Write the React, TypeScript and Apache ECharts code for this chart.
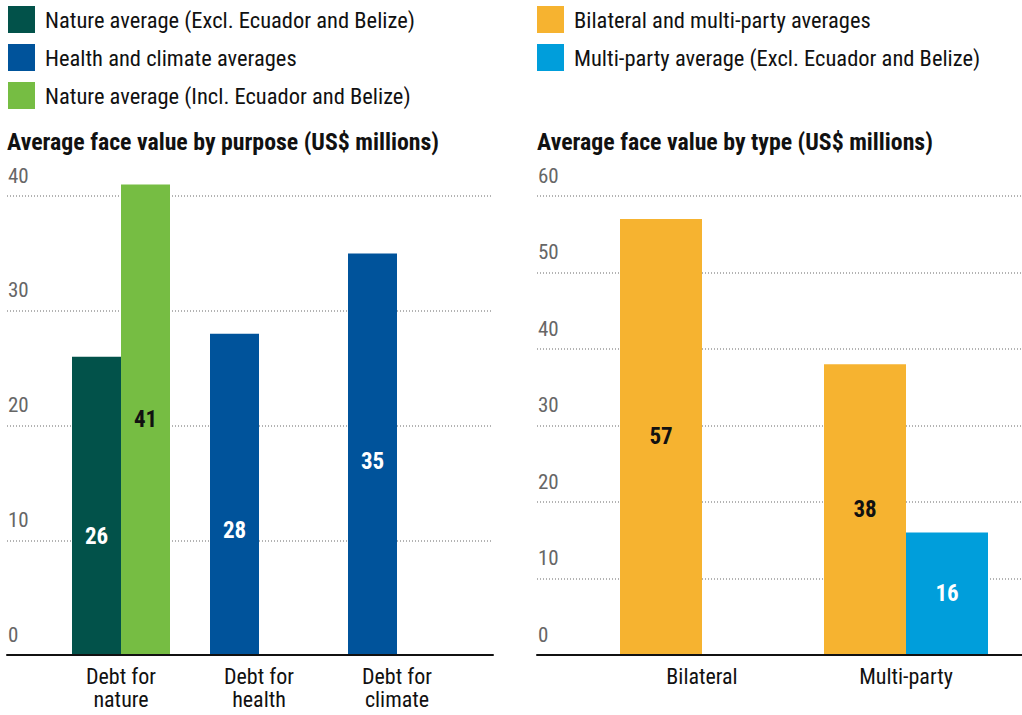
import React, { useEffect, useRef } from "react";
import * as echarts from "echarts";

const leftCategories = ["Debt for\nnature", "Debt for\nhealth", "Debt for\nclimate"];
const natureExcl = [26, null, null];
const healthClimate = [null, 28, 35];
const natureIncl = [41, null, null];

const rightCategories = ["Bilateral", "Multi-party"];
const bilateralMulti = [57, 38];
const multiExcl = [null, 16];

const leftMax = 40;
const rightMax = 60;
const tickStep = 10;

const NAMES = {
  natureExcl: "Nature average (Excl. Ecuador and Belize)",
  healthClimate: "Health and climate averages",
  natureIncl: "Nature average (Incl. Ecuador and Belize)",
  bilateralMulti: "Bilateral and multi-party averages",
  multiExcl: "Multi-party average (Excl. Ecuador and Belize)",
};

const COLORS = {
  darkGreen: "#02524A",
  blue: "#00539B",
  green: "#76BD43",
  orange: "#F6B330",
  lightBlue: "#009EDB",
};

const FONT = "'Liberation Sans Narrow', 'Roboto Condensed', 'DejaVu Sans Condensed', Roboto, sans-serif";

export default function App() {
  const ref = useRef<HTMLDivElement>(null);

  useEffect(() => {
    if (!ref.current) return;
    const chart = echarts.init(ref.current, null, { renderer: "svg" });

    const gridTop = 196;
    const gridHeight = 459;

    const frameX = (gridIndex: number) => ({
      type: "category",
      gridIndex,
      data: [""],
      z: 5,
      axisLine: { show: true, lineStyle: { color: "#111", width: 2 } },
      axisTick: { show: false },
      axisLabel: { show: false },
      splitLine: { show: false },
    });
    const frameY = (gridIndex: number, max: number) => ({
      type: "value",
      gridIndex,
      min: 0,
      max,
      interval: tickStep,
      axisLine: { show: false },
      axisTick: { show: false },
      axisLabel: {
        inside: true,
        margin: 1,
        color: "#666",
        fontFamily: FONT,
        fontSize: 21,
        verticalAlign: "bottom",
        lineHeight: 21,
        padding: [0, 0, 10, 0],
      },
      splitLine: { show: true, lineStyle: { color: "#9a9a9a", type: [1, 2], width: 1.5 } },
    });
    const barX = (gridIndex: number, data: string[]) => ({
      type: "category",
      gridIndex,
      data,
      axisLine: { show: false },
      axisTick: { show: false },
      axisLabel: {
        color: "#111",
        fontFamily: FONT,
        fontSize: 22,
        lineHeight: 23,
        margin: 10,
        interval: 0,
      },
    });
    const barY = (gridIndex: number, max: number) => ({
      type: "value",
      gridIndex,
      min: 0,
      max,
      show: false,
    });

    const labelStyle = (color: string) => ({
      show: true,
      position: "inside",
      color,
      fontFamily: FONT,
      fontWeight: "bold",
      fontSize: 23,
    });

    const legendBase = {
      orient: "vertical",
      top: 6,
      padding: 0,
      icon: "rect",
      itemWidth: 27,
      itemHeight: 27,
      itemGap: 11,
      selectedMode: false,
      textStyle: { color: "#111", fontFamily: FONT, fontSize: 22.5, padding: [0, 0, 0, 5] },
    };

    chart.setOption({
      animation: false,
      legend: [
        { ...legendBase, left: 8, data: [NAMES.natureExcl, NAMES.healthClimate, NAMES.natureIncl] },
        { ...legendBase, left: 537, data: [NAMES.bilateralMulti, NAMES.multiExcl] },
      ],
      title: [
        {
          text: "Average face value by purpose (US$ millions)",
          left: 7,
          top: 130,
          padding: 0,
          textStyle: { color: "#111", fontFamily: FONT, fontWeight: "bold", fontSize: 23.8 },
        },
        {
          text: "Average face value by type (US$ millions)",
          left: 537,
          top: 130,
          padding: 0,
          textStyle: { color: "#111", fontFamily: FONT, fontWeight: "bold", fontSize: 23.8 },
        },
      ],
      grid: [
        { left: 7, width: 486, top: gridTop, height: gridHeight },
        { left: 52, width: 414, top: gridTop, height: gridHeight },
        { left: 537, width: 485, top: gridTop, height: gridHeight },
        { left: 600, width: 408, top: gridTop, height: gridHeight },
      ],
      xAxis: [frameX(0), barX(1, leftCategories), frameX(2), barX(3, rightCategories)],
      yAxis: [frameY(0, leftMax), barY(1, leftMax), frameY(2, rightMax), barY(3, rightMax)],
      series: [
        {
          name: NAMES.natureExcl,
          type: "bar",
          xAxisIndex: 1,
          yAxisIndex: 1,
          stack: "slot1",
          clip: false,
          barWidth: 49,
          barGap: "0%",
          itemStyle: { color: COLORS.darkGreen },
          label: { ...labelStyle("#fff"), offset: [0, 31] },
          data: natureExcl,
        },
        {
          name: NAMES.healthClimate,
          type: "bar",
          xAxisIndex: 1,
          yAxisIndex: 1,
          stack: "slot1",
          clip: false,
          barWidth: 49,
          barGap: "0%",
          itemStyle: { color: COLORS.blue },
          label: labelStyle("#fff"),
          data: healthClimate.map((v, i) =>
            v === null ? null : { value: v, label: { offset: [0, i === 1 ? 36 : 7] } }
          ),
        },
        {
          name: NAMES.natureIncl,
          type: "bar",
          xAxisIndex: 1,
          yAxisIndex: 1,
          clip: false,
          barWidth: 49,
          barGap: "0%",
          itemStyle: { color: COLORS.green },
          label: labelStyle("#111"),
          data: natureIncl,
        },
        {
          name: NAMES.bilateralMulti,
          type: "bar",
          xAxisIndex: 3,
          yAxisIndex: 3,
          clip: false,
          barWidth: 82,
          barGap: "0%",
          itemStyle: { color: COLORS.orange },
          label: labelStyle("#111"),
          data: bilateralMulti,
        },
        {
          name: NAMES.multiExcl,
          type: "bar",
          xAxisIndex: 3,
          yAxisIndex: 3,
          clip: false,
          barWidth: 82,
          barGap: "0%",
          itemStyle: { color: COLORS.lightBlue },
          label: labelStyle("#fff"),
          data: multiExcl,
        },
      ],
    });

    return () => chart.dispose();
  }, []);

  return (
    <div
      ref={ref}
      style={{ position: "absolute", left: 0, top: 0, width: 1022, height: 715, background: "#fff" }}
    />
  );
}
